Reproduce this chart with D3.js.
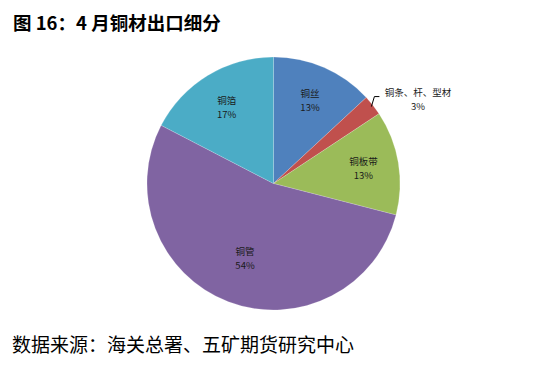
<!DOCTYPE html>
<html>
<head>
<meta charset="utf-8">
<script src="https://cdn.jsdelivr.net/npm/d3@7"></script>
<style>
  html, body { margin: 0; padding: 0; background: #fff; }
  svg { display: block; font-family: "Noto Sans CJK SC", "Noto Sans", sans-serif; }
</style>
</head>
<body>
<div id="chart"></div>
<script>
/* 4 月铜材出口细分 — pie */
const categories = ['铜丝', '铜条、杆、型材', '铜板带', '铜管', '铜箔'];
const shares     = [13.1, 2.6, 13.3, 53.6, 17.4];
const colors     = ['#4f81bd', '#c0504d', '#9bbb59', '#8064a2', '#4bacc6'];

const W = 547, H = 365;
const cx = 273.5, cy = 183.5, R = 126.5;

const svg = d3.select('#chart').append('svg').attr('width', W).attr('height', H);

svg.append('text').attr('x', 13).attr('y', 30)
  .style('font-size', '18.5px').style('font-weight', 'bold').style('fill', '#000')
  .text('图 16：4 月铜材出口细分');

svg.append('text').attr('x', 12).attr('y', 352)
  .style('font-size', '19px').style('fill', '#000')
  .text('数据来源：海关总署、五矿期货研究中心');

const data = categories.map((c, i) => ({name: c, value: shares[i], color: colors[i]}));
const total = d3.sum(shares);

const pie = d3.pie().value(d => d.value).sort(null);
const arc = d3.arc().innerRadius(0).outerRadius(R);
const arcs = pie(data);

const g = svg.append('g').attr('transform', `translate(${cx},${cy})`);

g.selectAll('path.slice').data(arcs).enter().append('path')
  .attr('class', 'slice')
  .attr('d', arc)
  .style('fill', d => d.data.color)
  .style('stroke', 'rgba(255,255,255,0.35)').style('stroke-width', 0.5);

const pct = d => Math.round(d.data.value / total * 100) + '%';

// labels inside for the big slices (bigger slice -> a bit nearer the centre),
// outside with a leader for the small one
const inside = arcs.filter(d => d.data.value / total >= 0.05);
const outside = arcs.filter(d => d.data.value / total < 0.05);

const labelPos = d => {
  const a = (d.startAngle + d.endAngle) / 2;
  const r = R * (0.75 - 0.22 * d.data.value / total);
  return [Math.sin(a) * r, -Math.cos(a) * r];
};

const lab = g.selectAll('g.lab').data(inside).enter().append('g').attr('class', 'lab')
  .attr('transform', d => `translate(${labelPos(d)})`);
lab.append('text').attr('text-anchor', 'middle').attr('y', -3)
  .style('font-size', '9.5px').style('fill', '#1a1a1a').text(d => d.data.name);
lab.append('text').attr('text-anchor', 'middle').attr('y', 11)
  .style('font-size', '9.5px').style('fill', '#1a1a1a').text(pct);

outside.forEach(d => {
  const a = (d.startAngle + d.endAngle) / 2;
  const p0 = [Math.sin(a) * (R - 2), -Math.cos(a) * (R - 2)];
  const p1 = [p0[0] + 3, p0[1] - 10];
  const p2 = [p1[0] + 5, p1[1]];
  g.append('path').attr('d', d3.line()([p0, p1, p2]))
    .style('fill', 'none').style('stroke', '#000').style('stroke-width', 1);
  const tx = p2[0] + 38.5;
  g.append('text').attr('x', tx).attr('y', p2[1] - 1).attr('text-anchor', 'middle')
    .style('font-size', '9.5px').style('fill', '#1a1a1a').text(d.data.name);
  g.append('text').attr('x', tx).attr('y', p2[1] + 13).attr('text-anchor', 'middle')
    .style('font-size', '9.5px').style('fill', '#1a1a1a').text(pct(d));
});
</script>
</body>
</html>
